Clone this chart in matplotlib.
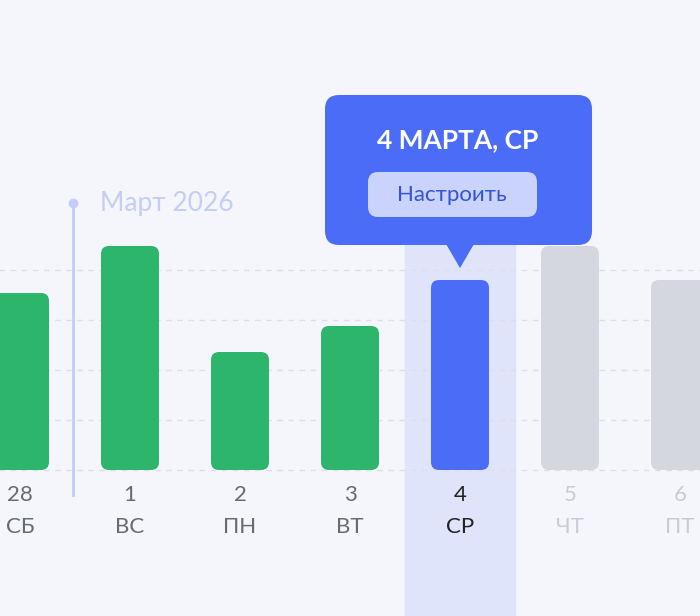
import matplotlib
matplotlib.use("Agg")
import matplotlib.pyplot as plt
from matplotlib.patches import FancyBboxPatch, Polygon, Rectangle

days = ["28", "1", "2", "3", "4", "5", "6"]
weekdays = ["СБ", "ВС", "ПН", "ВТ", "СР", "ЧТ", "ПТ"]
values = [177, 224, 118, 144, 190, 224, 190]
states = ["past", "past", "past", "past", "current", "future", "future"]
month_label = "Март 2026"
tooltip_title = "4 МАРТА, СР"
tooltip_button = "Настроить"
grid_levels = [0, 50, 100, 150, 200]

plt.rcParams['font.family'] = ['Lato', 'DejaVu Sans']
fig = plt.figure(figsize=(7, 6.16), dpi=100)
fig.patch.set_facecolor("#f5f6fc")
ax = fig.add_axes([0, 0, 1, 1])
ax.set_facecolor("#f5f6fc")
ax.set_xlim(-20/110, 680/110)
ax.set_ylim(-146, 470)
ax.axis("off")
A = 110  # aspect px per x-unit

colors = {"past": "#2db56b", "current": "#4a6cf6", "future": "#d5d7e0"}
cur = states.index("current")
ax.add_patch(Rectangle((cur-0.5, -146), 1, 376, color="#dfe4fb", zorder=0))
for g in grid_levels:
    ax.plot([-1, 7], [g, g], ls=(0, (4, 4)), color="#dcdfe8", lw=1, zorder=1)

w = 58/A
for i, v in enumerate(values):
    ax.add_patch(FancyBboxPatch((i-w/2, 0), w, v, boxstyle=f"round,pad=0,rounding_size={8/A}",
                                mutation_aspect=A, color=colors[states[i]], lw=0, zorder=2))
    tc = "#222222" if states[i] == "current" else ("#c9cbd3" if states[i] == "future" else "#666a73")
    ax.text(i, -25, days[i], ha="center", va="center", fontsize=16, color=tc)
    ax.text(i, -57, weekdays[i], ha="center", va="center", fontsize=16, color=tc)

# month marker
mx = (73-20)/A
ax.plot([mx, mx], [-25, 267], color="#c3cdf5", lw=2, zorder=1)
ax.plot(mx, 267, "o", color="#c3cdf5", ms=6)
ax.text((100-20)/A, 267, month_label, va="center", ha="left", fontsize=19, color="#c3cdf5")

# tooltip
tx0, tx1 = (325-20)/A, (592-20)/A
ax.add_patch(FancyBboxPatch((tx0, 470-245), tx1-tx0, 150, boxstyle=f"round,pad=0,rounding_size={14/A}",
                            mutation_aspect=A, color="#4a6cf6", lw=0, zorder=5))
ax.add_patch(Polygon([[cur-14/A, 226], [cur+14/A, 226], [cur, 470-268]], color="#4a6cf6", lw=0, zorder=5))
ax.text((458-20)/A, 470-140, tooltip_title, ha="center", va="center", fontsize=19,
        fontweight="bold", color="white", zorder=6)
bx0, bx1 = (368-20)/A, (537-20)/A
ax.add_patch(FancyBboxPatch((bx0, 470-217), bx1-bx0, 45, boxstyle=f"round,pad=0,rounding_size={10/A}",
                            mutation_aspect=A, color="#c9d3fb", lw=0, zorder=6))
ax.text((452-20)/A, 470-195, tooltip_button, ha="center", va="center", fontsize=16,
        color="#3553d6", zorder=7)

fig.savefig("out.png", dpi=100, facecolor=fig.get_facecolor())
